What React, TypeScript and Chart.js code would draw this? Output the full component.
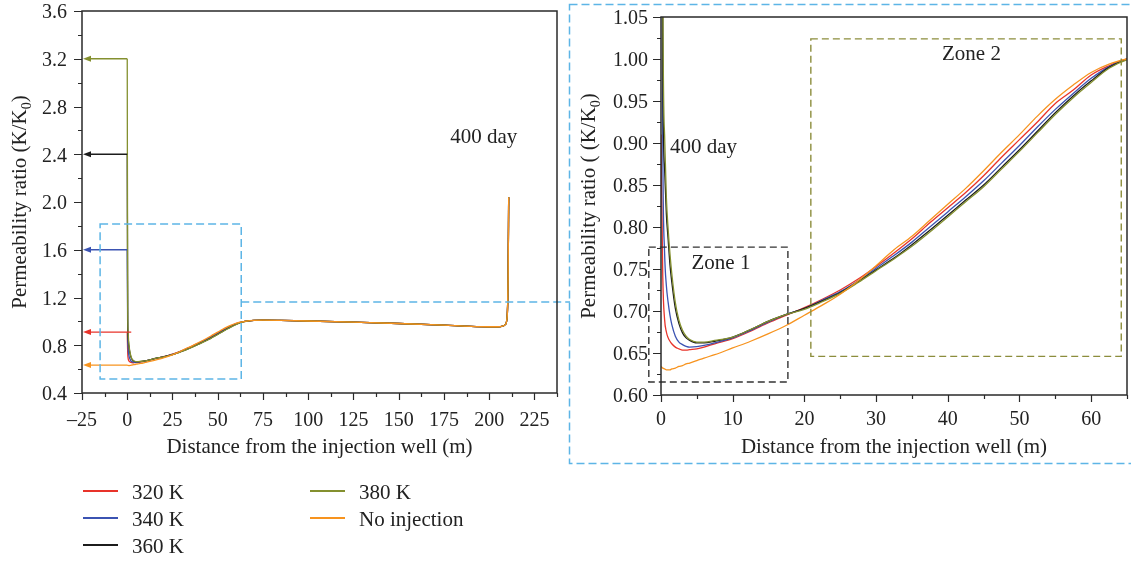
import React, { useEffect, useRef } from "react";
import { Chart, registerables } from "chart.js";

Chart.register(...registerables);

const FONT = '"Liberation Serif", "DejaVu Serif", "Times New Roman", serif';

// Distance from the injection well (m)
const distance = [0, 0.25, 0.5, 0.75, 1, 1.25, 1.5, 2, 2.5, 3, 3.5, 4, 5, 6, 7.5, 10, 12.5, 15, 17.5, 20, 22.5, 25, 27.5, 30, 32.5, 35, 37.5, 40, 42.5, 45, 47.5, 50, 52.5, 55, 57.5, 60, 62.5, 65, 70, 75, 85, 100, 125, 150, 175, 190, 200, 205, 207.5, 209, 210, 210.5, 210.8];

// Permeability ratio, 0–65 m
const near320 = [0.91, 0.74, 0.69, 0.675, 0.668, 0.664, 0.661, 0.657, 0.655, 0.6535, 0.6535, 0.654, 0.655, 0.657, 0.661, 0.667, 0.676, 0.686, 0.695, 0.704, 0.714, 0.725, 0.738, 0.753, 0.769, 0.786, 0.805, 0.823, 0.841, 0.861, 0.883, 0.904, 0.925, 0.947, 0.963, 0.981, 0.992, 1.0];
const near340 = [1.6, 0.9, 0.77, 0.73, 0.71, 0.695, 0.684, 0.67, 0.663, 0.66, 0.658, 0.657, 0.6575, 0.659, 0.662, 0.668, 0.677, 0.687, 0.696, 0.703, 0.713, 0.723, 0.736, 0.751, 0.766, 0.782, 0.8, 0.818, 0.836, 0.855, 0.876, 0.897, 0.919, 0.94, 0.959, 0.977, 0.991, 1.0];
const near360 = [2.4, 1.0, 0.87, 0.815, 0.785, 0.755, 0.735, 0.703, 0.685, 0.674, 0.668, 0.665, 0.662, 0.662, 0.664, 0.669, 0.678, 0.688, 0.696, 0.703, 0.712, 0.722, 0.735, 0.749, 0.763, 0.779, 0.796, 0.814, 0.832, 0.85, 0.871, 0.892, 0.914, 0.936, 0.956, 0.974, 0.99, 1.0];
const near380 = [3.2, 1.1, 0.91, 0.835, 0.797, 0.768, 0.745, 0.71, 0.689, 0.677, 0.67, 0.666, 0.663, 0.663, 0.665, 0.669, 0.678, 0.688, 0.696, 0.702, 0.711, 0.721, 0.734, 0.748, 0.762, 0.777, 0.794, 0.812, 0.83, 0.848, 0.869, 0.89, 0.912, 0.934, 0.954, 0.972, 0.989, 0.999];
const nearNoInjection = [0.634, 0.632, 0.631, 0.63, 0.63, 0.63, 0.631, 0.632, 0.634, 0.635, 0.637, 0.638, 0.641, 0.644, 0.648, 0.656, 0.664, 0.673, 0.683, 0.695, 0.707, 0.72, 0.736, 0.754, 0.773, 0.789, 0.808, 0.827, 0.846, 0.867, 0.889, 0.91, 0.932, 0.952, 0.969, 0.984, 0.994, 1.0];
// Permeability ratio, 70–210.8 m (curves coincide)
const farField = [1.008, 1.01, 1.008, 1.003, 0.993, 0.982, 0.968, 0.958, 0.955, 0.955, 0.96, 0.975, 1.05, 1.4, 2.04];

const seriesLabels = ["320 K", "340 K", "360 K", "380 K", "No injection"];
const seriesColors = ["#e8332a", "#3b53b2", "#1c1c1c", "#84902f", "#f7931e"];
const seriesNear = [near320, near340, near360, near380, nearNoInjection];

// Axis settings
const leftX = { min: -25, max: 237.5, step: 12.5 };
const leftY = { min: 0.4, max: 3.6, step: 0.2 };
const rightX = { min: 0, max: 65, step: 5 };
const rightY = { min: 0.6, max: 1.05, step: 0.025 };

// Annotation boxes (data units)
const overviewBox = { x0: -15, x1: 63, y0: 0.517, y1: 1.815, link: 1.162 };
const zone1Box = { x0: -1.7, x1: 17.7, y0: 0.6155, y1: 0.776 };
const zone2Box = { x0: 20.9, x1: 64.2, y0: 0.646, y1: 1.024 };

const TEXT = "#222";

function buildDatasets() {
  return seriesNear.map((near, i) => {
    const vals = [...near, ...farField];
    return {
      label: seriesLabels[i],
      data: distance.map((d, k) => ({ x: d, y: vals[k] })),
      borderColor: seriesColors[i],
      borderWidth: 1.3,
      pointRadius: 0,
      fill: false,
      cubicInterpolationMode: "monotone" as const,
      order: seriesNear.length - i,
    };
  });
}

function drawRotated(ctx: CanvasRenderingContext2D, baseX: number, cy: number, sub: string, pre: string, post: string) {
  ctx.save();
  ctx.translate(baseX, cy);
  ctx.rotate(-Math.PI / 2);
  const parts = [
    { t: pre, s: 21, dy: 0 },
    { t: sub, s: 14, dy: 5 },
    { t: post, s: 21, dy: 0 },
  ];
  let total = 0;
  const ws: number[] = [];
  parts.forEach((p) => {
    ctx.font = `${p.s}px ${FONT}`;
    const w = ctx.measureText(p.t).width;
    ws.push(w);
    total += w;
  });
  let cx = -total / 2;
  ctx.fillStyle = TEXT;
  ctx.textAlign = "left";
  ctx.textBaseline = "alphabetic";
  parts.forEach((p, i) => {
    ctx.font = `${p.s}px ${FONT}`;
    ctx.fillText(p.t, cx, p.dy);
    cx += ws[i];
  });
  ctx.restore();
}

const axisDeco = {
  id: "axisDeco",
  afterDraw(chart: any, _args: any, opts: any) {
    const { ctx, chartArea: a, scales } = chart;
    const x = scales.x;
    const y = scales.y;
    ctx.save();
    ctx.strokeStyle = "#2a2a2a";
    ctx.lineWidth = 1.5;
    ctx.setLineDash([]);
    ctx.strokeRect(a.left, a.top, a.right - a.left, a.bottom - a.top);
    ctx.lineWidth = 1.2;
    ctx.beginPath();
    x.ticks.forEach((t: any) => {
      const px = Math.round(x.getPixelForValue(t.value)) + 0.5;
      const len = t.label !== "" ? 7 : 4;
      ctx.moveTo(px, a.bottom);
      ctx.lineTo(px, a.bottom + len);
    });
    y.ticks.forEach((t: any) => {
      const py = Math.round(y.getPixelForValue(t.value)) + 0.5;
      const len = t.label !== "" ? 8 : 4;
      ctx.moveTo(a.left, py);
      ctx.lineTo(a.left - len, py);
    });
    ctx.stroke();
    // x title
    ctx.fillStyle = TEXT;
    ctx.font = `21px ${FONT}`;
    ctx.textAlign = "center";
    ctx.textBaseline = "alphabetic";
    ctx.fillText("Distance from the injection well (m)", (a.left + a.right) / 2, a.bottom + opts.xTitleOffset);
    drawRotated(ctx, a.left - opts.yTitleOffset, (a.top + a.bottom) / 2, "0", opts.yPre, ")");
    ctx.restore();
  },
};

function dashedRect(ctx: CanvasRenderingContext2D, x0: number, y0: number, x1: number, y1: number) {
  ctx.strokeRect(Math.min(x0, x1), Math.min(y0, y1), Math.abs(x1 - x0), Math.abs(y1 - y0));
}

const leftDeco = {
  id: "leftDeco",
  afterDatasetsDraw(chart: any) {
    const { ctx, chartArea: a, scales, width } = chart;
    const x = scales.x;
    const y = scales.y;
    ctx.save();
    // arrows toward the y axis marking each curve's value at the well
    seriesNear.forEach((near, i) => {
      const py = y.getPixelForValue(near[0]);
      const x0 = x.getPixelForValue(distance[0]) + (i === 0 ? 4 : 0);
      const tip = a.left + 1;
      ctx.strokeStyle = seriesColors[i];
      ctx.fillStyle = seriesColors[i];
      ctx.lineWidth = 1.3;
      ctx.beginPath();
      ctx.moveTo(x0, py);
      ctx.lineTo(tip + 5, py);
      ctx.stroke();
      ctx.beginPath();
      ctx.moveTo(tip, py);
      ctx.lineTo(tip + 8, py - 3);
      ctx.lineTo(tip + 8, py + 3);
      ctx.closePath();
      ctx.fill();
    });
    // overview dashed box
    ctx.strokeStyle = "#5db5e6";
    ctx.lineWidth = 1.5;
    ctx.setLineDash([8, 4]);
    const bx0 = x.getPixelForValue(overviewBox.x0);
    const bx1 = x.getPixelForValue(overviewBox.x1);
    dashedRect(ctx, bx0, y.getPixelForValue(overviewBox.y0), bx1, y.getPixelForValue(overviewBox.y1));
    const ly = y.getPixelForValue(overviewBox.link);
    ctx.beginPath();
    ctx.moveTo(bx1, ly);
    ctx.lineTo(width, ly);
    ctx.stroke();
    ctx.setLineDash([]);
    // label
    ctx.fillStyle = TEXT;
    ctx.font = `21px ${FONT}`;
    ctx.textAlign = "center";
    ctx.textBaseline = "middle";
    ctx.fillText("400 day", x.getPixelForValue(197), y.getPixelForValue(2.544));
    ctx.restore();
  },
};

const rightDeco = {
  id: "rightDeco",
  afterDatasetsDraw(chart: any) {
    const { ctx, scales } = chart;
    const x = scales.x;
    const y = scales.y;
    ctx.save();
    ctx.lineWidth = 1.4;
    ctx.setLineDash([7, 4]);
    ctx.strokeStyle = "#333";
    dashedRect(ctx, x.getPixelForValue(zone1Box.x0), y.getPixelForValue(zone1Box.y0), x.getPixelForValue(zone1Box.x1), y.getPixelForValue(zone1Box.y1));
    ctx.strokeStyle = "#8c8d3c";
    dashedRect(ctx, x.getPixelForValue(zone2Box.x0), y.getPixelForValue(zone2Box.y0), x.getPixelForValue(zone2Box.x1), y.getPixelForValue(zone2Box.y1));
    ctx.setLineDash([]);
    ctx.fillStyle = TEXT;
    ctx.font = `21px ${FONT}`;
    ctx.textBaseline = "middle";
    ctx.textAlign = "left";
    ctx.fillText("400 day", x.getPixelForValue(1.25), y.getPixelForValue(0.895));
    ctx.textAlign = "center";
    ctx.fillText("Zone 1", x.getPixelForValue(8.36), y.getPixelForValue(0.757));
    ctx.fillText("Zone 2", x.getPixelForValue(43.3), y.getPixelForValue(1.005));
    ctx.restore();
  },
};

function scaleOpts(range: { min: number; max: number; step: number }, isMajor: (v: number) => boolean, fmt: (v: number) => string, gap: number, shift: number, fit: (s: any) => void) {
  return {
    type: "linear" as const,
    min: range.min,
    max: range.max,
    grid: { display: true, drawOnChartArea: false, drawTicks: true, tickLength: gap, color: "rgba(0,0,0,0)" },
    border: { display: false },
    ticks: {
      stepSize: range.step,
      autoSkip: false,
      maxRotation: 0,
      minRotation: 0,
      padding: 0,
      labelOffset: shift,
      color: TEXT,
      font: { family: FONT, size: 20, lineHeight: 1 },
      callback: (v: any) => (isMajor(Number(v)) ? fmt(Number(v)) : ""),
    },
    afterFit: fit,
  };
}

export default function App() {
  const leftRef = useRef<HTMLCanvasElement | null>(null);
  const rightRef = useRef<HTMLCanvasElement | null>(null);

  useEffect(() => {
    Chart.defaults.font.family = FONT;
    const left = new Chart(leftRef.current as HTMLCanvasElement, {
      type: "line",
      data: { datasets: buildDatasets() as any },
      options: {
        animation: false,
        responsive: false,
        devicePixelRatio: 1,
        layout: { padding: { top: 11, right: 13, left: 0, bottom: 0 } },
        plugins: {
          legend: { display: false },
          tooltip: { enabled: false },
          axisDeco: { xTitleOffset: 60, yTitleOffset: 56, yPre: "Permeability ratio (K/K" },
        } as any,
        scales: {
          x: scaleOpts(leftX, (v) => Math.round(v * 2) % 50 === 0, (v) => (v < 0 ? "\u2013" + Math.abs(v) : String(v)), 18, 0, (s: any) => { s.height = 77; }),
          y: scaleOpts(leftY, (v) => Math.round(v * 10) % 4 === 0, (v) => v.toFixed(1), 15, 2, (s: any) => { s.width = 82; }),
        } as any,
      },
      plugins: [axisDeco, leftDeco],
    });
    const right = new Chart(rightRef.current as HTMLCanvasElement, {
      type: "line",
      data: { datasets: buildDatasets() as any },
      options: {
        animation: false,
        responsive: false,
        devicePixelRatio: 1,
        layout: { padding: { top: 17, right: 4, left: 0, bottom: 0 } },
        plugins: {
          legend: { display: false },
          tooltip: { enabled: false },
          axisDeco: { xTitleOffset: 58, yTitleOffset: 66, yPre: "Permeability ratio ( (K/K" },
        } as any,
        scales: {
          x: scaleOpts(rightX, (v) => Math.round(v) % 10 === 0, (v) => String(v), 15, 0, (s: any) => { s.height = 75; }),
          y: scaleOpts(rightY, (v) => Math.round(v * 1000) % 50 === 0, (v) => v.toFixed(2), 13, 2, (s: any) => { s.width = 91; }),
        } as any,
      },
      plugins: [axisDeco, rightDeco],
    });
    return () => {
      left.destroy();
      right.destroy();
    };
  }, []);

  const legendRows = [
    { i: 0, left: 83, y: 491 },
    { i: 1, left: 83, y: 518 },
    { i: 2, left: 83, y: 545 },
    { i: 3, left: 310, y: 491 },
    { i: 4, left: 310, y: 518 },
  ];

  return (
    <div style={{ position: "absolute", left: 0, top: 0, width: 1131, height: 562, background: "#fff", overflow: "hidden", fontFamily: FONT }}>
      <canvas ref={leftRef} width={570} height={470} style={{ position: "absolute", left: 0, top: 0 }} />
      <canvas ref={rightRef} width={561} height={470} style={{ position: "absolute", left: 570, top: 0 }} />
      <svg width={1131} height={562} style={{ position: "absolute", left: 0, top: 0, pointerEvents: "none" }}>
        <rect x={569.5} y={4.5} width={600} height={459} fill="none" stroke="#5db5e6" strokeWidth={1.5} strokeDasharray="8 4" />
      </svg>
      {legendRows.map((r) => (
        <React.Fragment key={r.i}>
          <div style={{ position: "absolute", left: r.left, top: r.y - 1, width: 35, height: 0, borderTop: `2px solid ${seriesColors[r.i]}` }} />
          <div style={{ position: "absolute", left: r.left + 49, top: r.y - 11, fontSize: 21, lineHeight: "24px", color: TEXT, whiteSpace: "nowrap" }}>
            {seriesLabels[r.i]}
          </div>
        </React.Fragment>
      ))}
    </div>
  );
}
